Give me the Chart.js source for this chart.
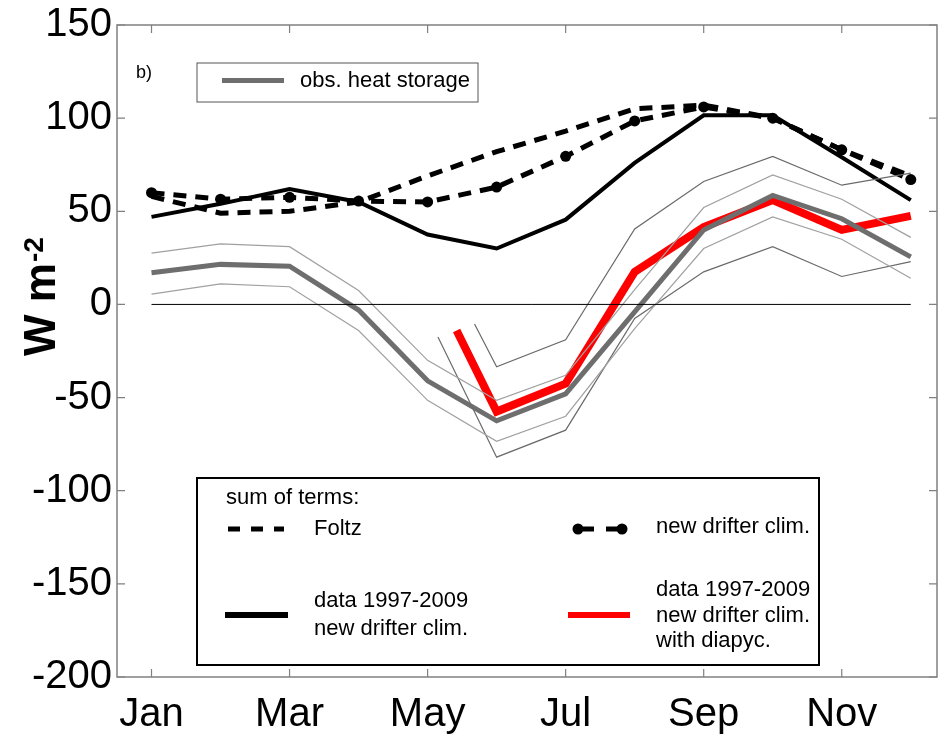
<!DOCTYPE html>
<html>
<head>
    <title>Heat budget - sum of terms</title>
    <script src="https://cdn.jsdelivr.net/npm/chart.js"></script>
    <style>
        body { margin: 0; background: #fff; }
        .chart-wrap { width: 938px; height: 736px; }
    </style>
</head>
<body>
    <div class="chart-wrap"><canvas id="heatChart" width="938" height="736"></canvas></div>
    <script>
        // month labels, month index 0 = Jan
        const months = ['Jan', 'Feb', 'Mar', 'Apr', 'May', 'Jun', 'Jul', 'Aug', 'Sep', 'Oct', 'Nov', 'Dec'];
        const monthIdx = [0, 1, 2, 3, 4, 5, 6, 7, 8, 9, 10, 11];
        const xTicks = [0, 2, 4, 6, 8, 10];
        const yTicks = [-200, -150, -100, -50, 0, 50, 100, 150];

        // values (W m-2)
        const data9709 = [47, 54, 62, 55, 37.5, 30, 45.5, 76, 101.5, 101.5, 79, 56];
        const foltz = [58, 49, 50, 55, 69, 82, 93, 105, 107, 100, 83, 69];
        const drifterClim = [60, 56.5, 57.5, 55.5, 55, 63, 79.5, 98.5, 106, 100, 83, 67];
        const obsHeat = [17, 21.5, 20.5, -3, -41, -62.5, -48, -4, 40, 58.5, 46, 25.5];
        const obsUpper = [27.5, 32.5, 31, 7.5, -30, -51.5, -38, 8, 52, 69.5, 56.5, 36];
        const obsLower = [5.5, 11, 9.5, -14, -51.5, -73.5, -60, -13, 30, 47, 35, 14];
        // red curve and its range only start between May and Jun
        const diapycX = [4.42, 5, 6, 7, 8, 9, 10, 11];
        const diapyc = [-14, -57.5, -42.5, 17.5, 41.5, 56, 40, 47.5];
        const diapycUpX = [4.68, 5, 6, 7, 8, 9, 10, 11];
        const diapycUp = [-10.5, -33.5, -19, 40.5, 66, 79.5, 64, 70.5];
        const diapycLoX = [4.15, 5, 6, 7, 8, 9, 10, 11];
        const diapycLo = [-17.5, -82, -67.5, -7.5, 17.5, 31, 15, 23];
        const zeroLine = [0, 0];
        const zeroX = [0, 11];

        const pts = (xs, ys) => xs.map((x, i) => ({ x: x, y: ys[i] }));
        const FONT = '"Liberation Sans", Arial, sans-serif';

        const lineBase = { pointRadius: 0, tension: 0, fill: false, borderCapStyle: 'butt', borderJoinStyle: 'miter' };

        const datasets = [
            { data: pts(zeroX, zeroLine), borderColor: '#000', borderWidth: 1, ...lineBase },
            { data: pts(monthIdx, obsUpper), borderColor: '#a0a0a0', borderWidth: 1.2, ...lineBase },
            { data: pts(monthIdx, obsLower), borderColor: '#a0a0a0', borderWidth: 1.2, ...lineBase },
            { data: pts(diapycUpX, diapycUp), borderColor: '#6a6a6a', borderWidth: 1.2, ...lineBase },
            { data: pts(diapycLoX, diapycLo), borderColor: '#6a6a6a', borderWidth: 1.2, ...lineBase },
            { label: 'obs. heat storage', data: pts(monthIdx, obsHeat), borderColor: '#6e6e6e', borderWidth: 5, ...lineBase },
            { label: 'with diapyc.', data: pts(diapycX, diapyc), borderColor: '#ff0000', borderWidth: 8, ...lineBase },
            { label: 'data 1997-2009', data: pts(monthIdx, data9709), borderColor: '#000', borderWidth: 4, ...lineBase },
            { label: 'Foltz', data: pts(monthIdx, foltz), borderColor: '#000', borderWidth: 5, borderDash: [13, 9], ...lineBase },
            {
                label: 'new drifter clim.', data: pts(monthIdx, drifterClim), borderColor: '#000', borderWidth: 5,
                borderDash: [13, 9], ...lineBase, pointRadius: 5.5, pointBackgroundColor: '#000', pointBorderWidth: 0
            },
        ];

        // frame, inward ticks, in-plot legends and axis title
        const decorations = {
            id: 'decorations',
            afterDraw(chart) {
                const ctx = chart.ctx;
                const a = chart.chartArea;
                const xs = chart.scales.x, ys = chart.scales.y;
                ctx.save();
                ctx.strokeStyle = '#808080';
                ctx.lineWidth = 1.5;
                ctx.strokeRect(a.left, a.top, a.right - a.left, a.bottom - a.top);
                ctx.lineWidth = 1.2;
                ctx.beginPath();
                xTicks.forEach(v => {
                    const px = xs.getPixelForValue(v);
                    ctx.moveTo(px, a.top); ctx.lineTo(px, a.top + 8);
                    ctx.moveTo(px, a.bottom); ctx.lineTo(px, a.bottom - 8);
                });
                yTicks.forEach(v => {
                    const py = ys.getPixelForValue(v);
                    ctx.moveTo(a.left, py); ctx.lineTo(a.left + 8, py);
                    ctx.moveTo(a.right, py); ctx.lineTo(a.right - 8, py);
                });
                ctx.stroke();

                // panel letter
                ctx.fillStyle = '#000';
                ctx.font = '18px ' + FONT;
                ctx.textBaseline = 'middle';
                ctx.textAlign = 'left';
                ctx.fillText('b)', 136, 73);

                // upper legend
                ctx.strokeStyle = '#555';
                ctx.lineWidth = 1;
                ctx.strokeRect(197, 63, 281, 39);
                ctx.strokeStyle = '#6e6e6e';
                ctx.lineWidth = 5;
                ctx.beginPath(); ctx.moveTo(222, 80.5); ctx.lineTo(284, 80.5); ctx.stroke();
                ctx.font = '22px ' + FONT;
                ctx.fillText('obs. heat storage', 300, 81);

                // lower legend
                ctx.strokeStyle = '#000';
                ctx.lineWidth = 2;
                ctx.fillStyle = '#fff';
                ctx.fillRect(197, 478, 622, 187);
                ctx.strokeRect(197, 478, 622, 187);
                ctx.fillStyle = '#000';
                ctx.fillText('sum of terms:', 226, 498);
                ctx.fillText('Foltz', 314, 529);
                ctx.fillText('data 1997-2009', 314, 601);
                ctx.fillText('new drifter clim.', 314, 629);
                ctx.fillText('new drifter clim.', 656, 527);
                ctx.fillText('data 1997-2009', 656, 590);
                ctx.fillText('new drifter clim.', 656, 616);
                ctx.fillText('with diapyc.', 656, 641);

                ctx.lineWidth = 5;
                ctx.setLineDash([12, 11]);
                ctx.beginPath(); ctx.moveTo(228, 529); ctx.lineTo(284, 529); ctx.stroke();
                ctx.setLineDash([]);
                ctx.beginPath(); ctx.moveTo(583, 529); ctx.lineTo(594, 529); ctx.moveTo(606, 529); ctx.lineTo(619, 529); ctx.stroke();
                [578, 622].forEach(cx => { ctx.beginPath(); ctx.arc(cx, 529, 5.5, 0, Math.PI * 2); ctx.fill(); });
                ctx.lineWidth = 6;
                ctx.beginPath(); ctx.moveTo(225, 615); ctx.lineTo(288, 615); ctx.stroke();
                ctx.strokeStyle = '#ff0000';
                ctx.beginPath(); ctx.moveTo(568, 615); ctx.lineTo(630, 615); ctx.stroke();

                // y axis title with superscript
                ctx.translate(55, 297);
                ctx.rotate(-Math.PI / 2);
                ctx.textBaseline = 'alphabetic';
                ctx.font = 'bold 44px ' + FONT;
                const main = 'W m';
                const w1 = ctx.measureText(main).width;
                ctx.font = 'bold 28px ' + FONT;
                const w2 = ctx.measureText('-2').width;
                const x0 = -(w1 + w2) / 2;
                ctx.font = 'bold 44px ' + FONT;
                ctx.fillText(main, x0, 0);
                ctx.font = 'bold 28px ' + FONT;
                ctx.fillText('-2', x0 + w1 + 1, -12);
                ctx.restore();
            }
        };

        new Chart(document.getElementById('heatChart'), {
            type: 'line',
            data: { datasets: datasets },
            options: {
                responsive: false,
                animation: false,
                maintainAspectRatio: false,
                layout: { autoPadding: false, padding: { top: 25, right: 1, left: 0, bottom: 0 } },
                plugins: { legend: { display: false }, tooltip: { enabled: false } },
                scales: {
                    x: {
                        type: 'linear',
                        min: -0.5,
                        max: 11.38,
                        grid: { display: false, drawTicks: false },
                        border: { display: false },
                        afterFit: s => { s.height = 59; },
                        afterBuildTicks: s => { s.ticks = xTicks.map(v => ({ value: v })); },
                        ticks: {
                            autoSkip: false, maxRotation: 0, padding: 18,
                            color: '#000', font: { size: 40, family: FONT, lineHeight: 1 },
                            callback: v => months[v]
                        }
                    },
                    y: {
                        min: -200,
                        max: 150,
                        grid: { display: false, drawTicks: false },
                        border: { display: false },
                        afterFit: s => { s.width = 117; },
                        afterBuildTicks: s => { s.ticks = yTicks.map(v => ({ value: v })); },
                        ticks: {
                            padding: 5, color: '#000', font: { size: 40, family: FONT, lineHeight: 1 },
                            callback: v => String(v)
                        }
                    }
                }
            },
            plugins: [decorations]
        });
    </script>
</body>
</html>
